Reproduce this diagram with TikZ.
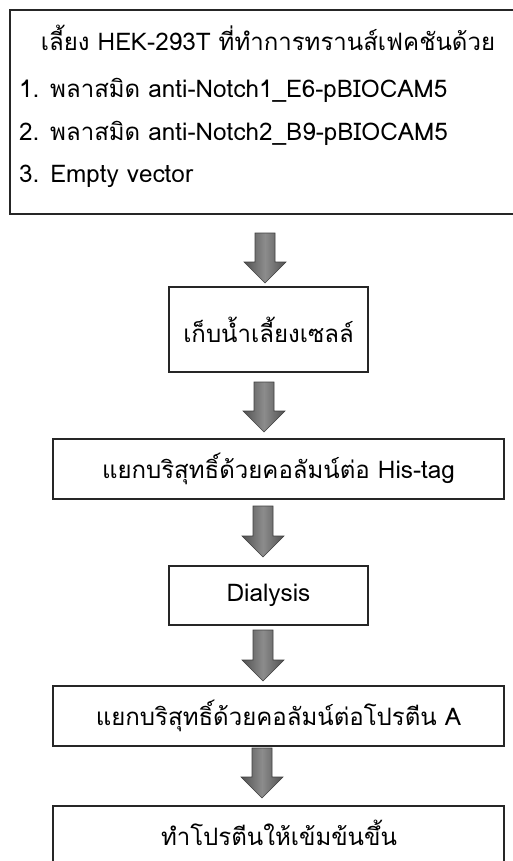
\documentclass[tikz,border=0pt]{standalone}
\usepackage{fontspec}
\newfontfamily\thaifont[Script=Thai]{Loma}
\newcommand\lt[1]{{\fontsize{24.3}{30}\selectfont #1}}
\newcommand\blkarrow[4]{%
  \coordinate (#1) at (#2,#3);
  \path[arr] (#2-10,#3) -- (#2+10,#3) -- (#2+10,#4-21) -- (#2+21,#4-21)
    -- (#2,#4) -- (#2-21,#4-21) -- (#2-10,#4-21) -- cycle;}
\begin{document}
\begin{tikzpicture}[x=1pt,y=-1pt,
  box/.style={draw=black!85, line width=1.3pt, inner sep=0pt},
  txt/.style={font=\thaifont\fontsize{24}{30}\selectfont, inner sep=0pt},
  arr/.style={draw=black!75, line width=0.6pt, left color=black!68,
              right color=black!68, middle color=black!45}]
\useasboundingbox[fill=white] (0,0) rectangle (512,861);
% top box
\node[box, minimum width=504pt, minimum height=204pt] (b1) at (262,112) {};
\node[txt] (t0) at (268,38) {เลี้ยง \lt{HEK-293T} ที่ทำการทรานส์เฟคชันด้วย};
\node[txt, anchor=west] (t1) at (19,90) {\lt{1.} พลาสมิด \lt{anti-Notch1\_E6-pBIOCAM5}};
\node[txt, anchor=west] (t2) at (19,133) {\lt{2.} พลาสมิด \lt{anti-Notch2\_B9-pBIOCAM5}};
\node[txt, anchor=west] (t3) at (19,176) {\lt{3. Empty vector}};
% boxes
\node[box, txt, draw=black!85, line width=1.3pt, minimum width=199pt, minimum height=85pt] (b2) at (268.5,329.5) {เก็บน้ำเลี้ยงเซลล์};
\node[box, txt, draw=black!85, line width=1.3pt, minimum width=451pt, minimum height=60pt] (b3) at (278.5,469) {แยกบริสุทธิ์ด้วยคอลัมน์ต่อ \lt{His-tag}};
\node[box, txt, draw=black!85, line width=1.3pt, minimum width=199pt, minimum height=59pt] (b4) at (268.5,595.5) {\lt{Dialysis}};
\node[box, txt, draw=black!85, line width=1.3pt, minimum width=451pt, minimum height=60pt] (b5) at (278.5,716) {แยกบริสุทธิ์ด้วยคอลัมน์ต่อโปรตีน \lt{A}};
\node[box, minimum width=451pt, minimum height=64pt] (b6) at (278.5,838) {};
\node[txt] (t6) at (279,833) {ทำโปรตีนให้เข้มข้นขึ้น};
% arrows
\blkarrow{a1}{265}{233}{283}
\blkarrow{a2}{264}{382}{432}
\blkarrow{a3}{263}{506}{557}
\blkarrow{a4}{263}{630}{681}
\blkarrow{a5}{262}{748}{798}
\end{tikzpicture}
\end{document}
